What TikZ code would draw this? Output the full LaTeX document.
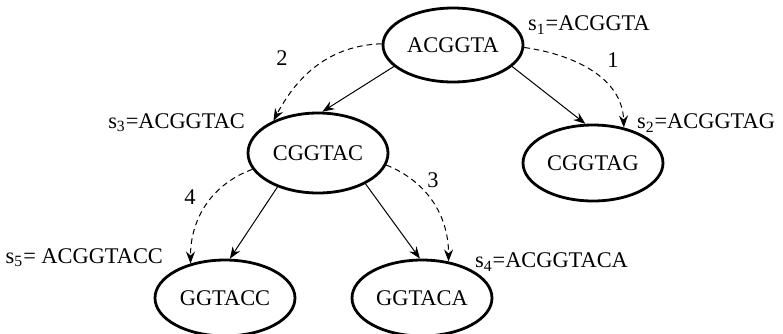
\documentclass[tikz,border=0pt]{standalone}
\usepackage{fontspec}
\setmainfont{Liberation Serif}
\usetikzlibrary{shapes,arrows.meta,positioning}

\begin{document}
\begin{tikzpicture}[x=0.5pt,y=-0.5pt,font=\fontsize{11.2}{13}\selectfont,
	seq/.style={ellipse,draw,line width=1.4pt,inner sep=0pt,minimum width=70pt,minimum height=38pt},
	link/.style={-{Stealth[length=6pt,width=4.5pt,inset=2pt]},line width=0.5pt},
	order/.style={link,dash pattern=on 2.8pt off 2pt}]
	\useasboundingbox (0,0) rectangle (783,333);
	\node[seq,minimum height=37pt] (acggta) at (453,45) {ACGGTA};
	\node[seq,minimum height=40pt] (cggtac) at (318,153) {CGGTAC};
	\node[seq] (cggtag) at (593,163) {CGGTAG};
	\node[seq] (ggtacc) at (225,298) {GGTACC};
	\node[seq] (ggtaca) at (422,298) {GGTACA};
	\draw[link] (acggta.200) -- (cggtac.84);
	\draw[link] (acggta.340) -- (cggtag.101);
	\draw[link] (cggtac.220) -- (ggtacc.83);
	\draw[link] (cggtac.327) -- (ggtaca.93);
	\draw[order] (acggta.179) to[out=182,in=62] (cggtac.144);
	\draw[order] (acggta.358) to[out=-8,in=92] (cggtag.49);
	\draw[order] (cggtac.194) to[out=200,in=90] (ggtacc.135);
	\draw[order] (cggtac.350) to[out=-22,in=90] (ggtaca.54);
	\node[anchor=west] (s1) at (521,25) {s\textsubscript{1}=ACGGTA};
	\node[anchor=east] (s2) at (782,123) {s\textsubscript{2}=ACGGTAG};
	\node[anchor=east] (s3) at (252,123) {s\textsubscript{3}=ACGGTAC};
	\node[anchor=west] (s4) at (468,262) {s\textsubscript{4}=ACGGTACA};
	\node[anchor=east] (s5) at (170,258) {s\textsubscript{5}= ACGGTACC};
	\node (n1) at (613,60) {1};
	\node (n2) at (282,58) {2};
	\node (n3) at (433,180) {3};
	\node (n4) at (190,197) {4};
\end{tikzpicture}
\end{document}
